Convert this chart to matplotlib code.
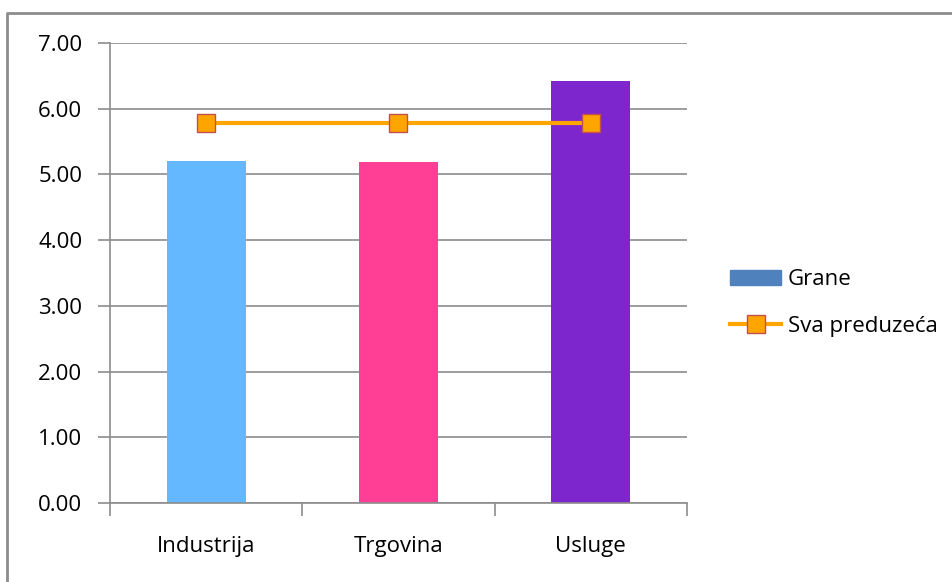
import matplotlib.pyplot as plt
import matplotlib.patches as mpatches
from matplotlib.lines import Line2D

plt.rcParams['font.family'] = ['Open Sans', 'DejaVu Sans']

categories = ["Industrija", "Trgovina", "Usluge"]
grane = [5.21, 5.19, 6.42]
sva_preduzeca = [5.79, 5.79, 5.79]
bar_colors = ["#63B8FF", "#FF3E96", "#7D26CD"]
yticks = [0, 1, 2, 3, 4, 5, 6, 7]

W, H = 953, 582
fig = plt.figure(figsize=(W / 100, H / 100), dpi=100)

# outer frame
frame = fig.add_axes([0, 0, 1, 1])
frame.set_xlim(0, W)
frame.set_ylim(H, 0)
frame.axis("off")
frame.plot([7, 7, W + 5], [H + 5, 13, 13], color="#8c8c8c", lw=2)

ax = fig.add_axes([110 / W, 1 - 503 / H, 577 / W, 460 / H])
x = list(range(len(categories)))
ax.bar(x, grane, width=0.41, color=bar_colors, zorder=2)
ax.plot(x, sva_preduzeca, color="#FFA500", lw=3, marker="s", markersize=13,
        markerfacecolor="#FFA500", markeredgecolor="#C0504D", markeredgewidth=1, zorder=3)

ax.set_xlim(-0.5, 2.5)
ax.set_ylim(0, 7)
ax.set_yticks(yticks)
ax.set_yticklabels([f"{v:.2f}" for v in yticks])
ax.grid(axis="y", color="#8c8c8c", lw=1.2, zorder=0)
ax.set_xticks(x)
ax.set_xticklabels(categories)
ax.set_xticks([-0.5, 0.5, 1.5, 2.5], minor=True)
ax.tick_params(axis="x", which="major", length=0, pad=24, labelsize=16)
ax.tick_params(axis="x", which="minor", length=9, color="#8c8c8c", width=1.2)
ax.tick_params(axis="y", length=9, color="#8c8c8c", width=1.2, labelsize=16, pad=11)
for s in ["top", "right"]:
    ax.spines[s].set_visible(False)
for s in ["left", "bottom"]:
    ax.spines[s].set_color("#8c8c8c")
    ax.spines[s].set_linewidth(1.2)

handles = [
    mpatches.Patch(color="#4F81BD", label="Grane"),
    Line2D([], [], color="#FFA500", lw=3, marker="s", markersize=13,
           markerfacecolor="#FFA500", markeredgecolor="#C0504D", label="Sva preduzeća"),
]
fig.legend(handles=handles, loc="center left", bbox_to_anchor=(710 / W, 1 - 303 / H),
           frameon=False, fontsize=16, handlelength=2.3, labelspacing=1.15, handletextpad=0.3)

fig.savefig("out.png", dpi=100)
